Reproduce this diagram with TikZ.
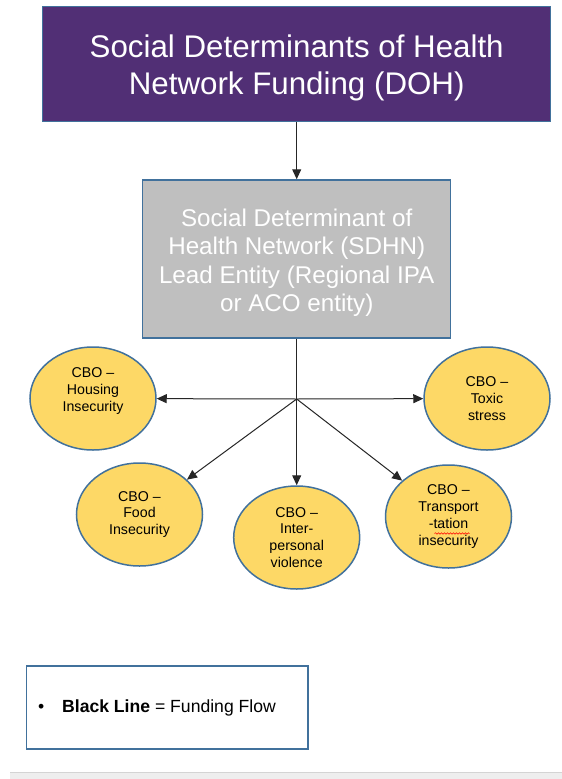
\documentclass[tikz,border=0pt]{standalone}
\usepackage{fontspec}
\setmainfont{Liberation Sans}
\usetikzlibrary{arrows.meta,shapes.geometric,decorations.pathmorphing}
\definecolor{purplebox}{HTML}{512F75}
\definecolor{edgeblue}{HTML}{41719C}
\definecolor{graybox}{HTML}{BFBFBF}
\definecolor{yellowfill}{HTML}{FDD866}
\definecolor{bandgray}{HTML}{EEEEEE}
\definecolor{bandline}{HTML}{D4D4D4}
\begin{document}
\begin{tikzpicture}[x=1pt,y=-1pt,
  box/.style={draw=edgeblue,line width=1.5pt,inner sep=0pt},
  boxtext/.style={inner sep=0pt,align=center,text=white},
  cbo/.style={ellipse,draw=edgeblue,line width=1.5pt,fill=yellowfill,minimum width=126pt,minimum height=103pt,inner sep=0pt,align=center,font=\fontsize{14.2}{16.8}\selectfont},
  cbotext/.style={inner sep=0pt,align=center,font=\fontsize{14.2}{16.8}\selectfont},
  flow/.style={draw=black!85,line width=1pt,-{Triangle[length=10pt,width=9pt]}},
  plainline/.style={draw=black!85,line width=1pt}]
\useasboundingbox (0,0) rectangle (562,779);
\fill[white] (0,0) rectangle (562,779);
% bottom band
\fill[bandgray] (10,772.5) rectangle (562,779);
\draw[bandline,line width=0.8pt] (10,772.5) -- (562,772.5);
% top boxes
\node[box,fill=purplebox,minimum width=508pt,minimum height=115pt] (doh) at (296.7,64.2) {};
\node[boxtext,font=\fontsize{31.3}{36.6}\selectfont] (dohtext) at ([yshift=-3.5pt]doh.center) {Social Determinants of Health\\Network Funding (DOH)};
\node[box,fill=graybox,minimum width=308pt,minimum height=158pt] (sdhn) at (296.7,259) {};
\node[boxtext,font=\fontsize{24.2}{28.5}\selectfont] (sdhntext) at ([yshift=-3.5pt]sdhn.center) {Social Determinant of\\Health Network (SDHN)\\Lead Entity (Regional IPA\\or ACO entity)};
% ellipses
\node[cbo] (housing) at (93,398.5) {};
\node[cbotext] (housingtext) at ([yshift=7.5pt]housing.center) {CBO –\\Housing\\Insecurity};
\node[cbo] (toxic) at (487,398.5) {CBO –\\Toxic\\stress};
\node[cbo] (food) at (139.5,514.5) {CBO –\\Food\\Insecurity};
\node[cbo] (inter) at (296.7,537.5) {CBO –\\Inter-\\personal\\violence};
\node[cbo] (transport) at (448.5,516.5) {CBO –\\Transport\\-tation\\insecurity};
\draw[red,line width=0.5pt,decorate,decoration={snake,amplitude=0.8pt,segment length=3pt}] (434.5,533.5) -- (469.5,533.5);
% connectors
\coordinate (hub) at (296.7,399);
\draw[flow] (doh.south) -- (sdhn.north);
\draw[plainline] (sdhn.south) -- (hub);
\draw[flow] (hub) -- (housing);
\draw[flow] (hub) -- (toxic);
\draw[flow] (hub) -- (food);
\draw[flow] (hub) -- (inter);
\draw[flow] (hub) -- (transport);
% legend
\node[draw=edgeblue,line width=1.5pt,minimum width=281.3pt,minimum height=83pt,inner sep=0pt] (legend) at (167.35,707.5) {};
\node[anchor=west,inner sep=0pt,font=\fontsize{17.6}{20}\selectfont] (legendtext) at ([xshift=12pt]legend.west) {\makebox[24pt][l]{\textbullet}\textbf{Black Line} = Funding Flow};
\end{tikzpicture}
\end{document}
